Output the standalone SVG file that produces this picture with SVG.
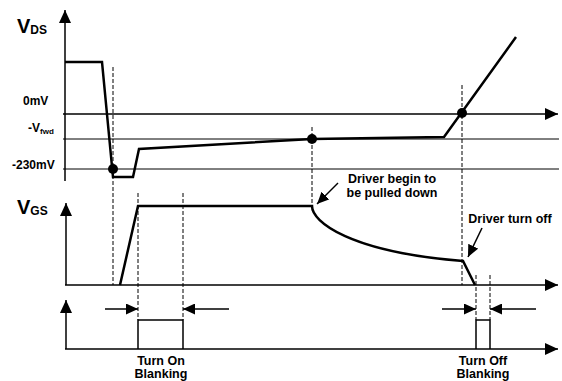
<svg xmlns="http://www.w3.org/2000/svg" width="562" height="381" viewBox="0 0 562 381">
<style>
text{font-family:"Liberation Sans",Arial,sans-serif;font-weight:bold;fill:#000}
.ax{stroke:#000;stroke-width:1.5;fill:none}
.ref{stroke:#000;stroke-width:1;fill:none}
.sig{stroke:#000;stroke-width:2.5;fill:none;stroke-linejoin:miter}
.dash{stroke:#000;stroke-width:1;stroke-dasharray:4,2;fill:none}
.lbl{font-size:12px}
.ann{font-size:12.5px}
</style>
<defs>
<marker id="ah" markerUnits="userSpaceOnUse" markerWidth="14" markerHeight="12" refX="13" refY="6" orient="auto">
<path d="M0,0 L13,6 L0,12 Z" fill="#000"/>
</marker>
<marker id="sh" markerUnits="userSpaceOnUse" markerWidth="13" markerHeight="11" refX="12" refY="5.5" orient="auto">
<path d="M0,0 L12,5.5 L0,11 Z" fill="#000"/>
</marker>
</defs>
<g id="vds-axes">
<line class="ax" x1="65" y1="181" x2="65" y2="10" marker-end="url(#ah)"/>
<line class="ax" x1="63" y1="114" x2="558" y2="114" marker-end="url(#ah)"/>
<line class="ref" x1="63" y1="139" x2="559" y2="139" stroke="#555"/>
<line class="ref" x1="63" y1="169" x2="559" y2="169"/>
<text x="17" y="33" font-size="20">V<tspan font-size="12" dy="1">DS</tspan></text>
<text class="lbl" x="23" y="105">0mV</text>
<text class="lbl" x="28" y="132">-V<tspan font-size="8" dy="2">fwd</tspan></text>
<text class="lbl" x="12" y="169">-230mV</text>
</g>
<g id="vgs-axes">
<line class="ax" x1="66" y1="285" x2="66" y2="203" marker-end="url(#ah)"/>
<line class="ax" x1="65" y1="285" x2="558" y2="285" marker-end="url(#ah)"/>
<text x="17" y="214" font-size="20">V<tspan font-size="12" dy="1">GS</tspan></text>
</g>
<g id="blank-axes">
<line class="ax" x1="66" y1="349" x2="66" y2="300" marker-end="url(#ah)"/>
<line class="ax" x1="65" y1="349" x2="558" y2="349" marker-end="url(#ah)"/>
</g>
<g id="connectors">
<line class="dash" x1="113" y1="67" x2="113" y2="285"/>
<line class="dash" x1="138" y1="193" x2="138" y2="320"/>
<line class="dash" x1="183" y1="193" x2="183" y2="320"/>
<line class="dash" x1="312" y1="127" x2="312" y2="206"/>
<line class="dash" x1="462" y1="85" x2="462" y2="285"/>
<line class="dash" x1="476" y1="275" x2="476" y2="320"/>
<line class="dash" x1="490" y1="275" x2="490" y2="320"/>
<line class="ax" x1="105" y1="309" x2="138" y2="309" marker-end="url(#sh)"/>
<line class="ax" x1="229" y1="309" x2="183" y2="309" marker-end="url(#sh)"/>
<line class="ax" x1="442" y1="309" x2="476" y2="309" marker-end="url(#sh)"/>
<line class="ax" x1="536" y1="309" x2="490" y2="309" marker-end="url(#sh)"/>
<line class="ax" x1="338" y1="183" x2="317" y2="204" marker-end="url(#sh)"/>
<line class="ax" x1="482" y1="228" x2="468" y2="257" marker-end="url(#sh)"/>
</g>
<g id="vds-signal">
<polyline class="sig" points="65,62 102,62 113,177 133,177 139,149 312,139 444,137 516,37"/>
<circle cx="113" cy="169" r="5"/>
<circle cx="312" cy="139" r="5"/>
<circle cx="462" cy="113" r="5"/>
</g>
<g id="vgs-signal">
<path class="sig" d="M120,285 L138,206 L312,206 C312,222 350,252 463,261 L475,285"/>
</g>
<g id="blank-signal">
<polyline class="ax" points="138,349 138,320 183,320 183,349"/>
<polyline class="ax" points="476,349 476,320 490,320 490,349"/>
</g>
<g id="annotations">
<text class="ann" x="392" y="183" text-anchor="middle">Driver begin to</text>
<text class="ann" x="392" y="197" text-anchor="middle">be pulled down</text>
<text class="ann" x="510" y="223" text-anchor="middle">Driver turn off</text>
<text class="ann" x="161" y="365" text-anchor="middle">Turn On</text>
<text class="ann" x="161" y="378" text-anchor="middle">Blanking</text>
<text class="ann" x="483" y="365" text-anchor="middle">Turn Off</text>
<text class="ann" x="483" y="378" text-anchor="middle">Blanking</text>
</g>
</svg>
